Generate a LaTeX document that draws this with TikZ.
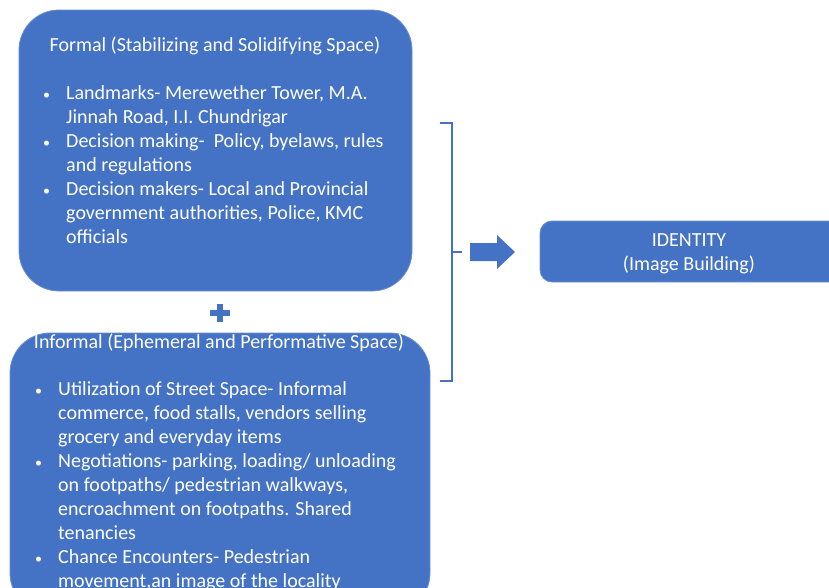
\documentclass[tikz,border=0pt]{standalone}
\usepackage{fontspec}
\setmainfont{Carlito}
\usepackage{tikz}
\usepackage{xcolor}

\definecolor{boxblue}{HTML}{4472C4}
\definecolor{boxedge}{HTML}{6C8FD0}

% bullet with a fixed hanging width
\newcommand{\bul}{\makebox[24pt][l]{\hspace{1pt}\fontsize{14}{14}\selectfont\textbullet}}
\newcommand{\hang}{\hspace*{24pt}}

\tikzset{
  panel/.style={draw=boxedge, fill=boxblue, line width=0.8pt, rounded corners=40pt},
  txt/.style={text=white, font=\fontsize{20}{24}\selectfont},
}

\begin{document}
\begin{tikzpicture}[x=1pt, y=-1pt]
  \useasboundingbox (0,0) rectangle (829,587);
  \clip (0,0) rectangle (829,587);
  % Formal
  \node[panel, minimum width=393pt, minimum height=281pt] (formal) at (215.5,150.5) {};
  \node[txt] (formalttl) at (215,46) {Formal (Stabilizing and Solidifying Space)};
  \node[txt, anchor=north west, align=left, inner sep=0pt] (formallst) at (42,85) {%
    \bul Landmarks- Merewether Tower, M.A.\\
    \hang Jinnah Road, I.I. Chundrigar\\
    \bul Decision making-\ \ Policy, byelaws, rules\\
    \hang and regulations\\
    \bul Decision makers- Local and\ Provincial\\
    \hang government authorities, Police, KMC\\
    \hang officials};
  % Plus
  \fill[boxblue] (210,310) rectangle (230,316);
  \fill[boxblue] (217,304) rectangle (223,322);
  % Informal
  \node[panel, minimum width=420pt, minimum height=280pt] (informal) at (220,473) {};
  \node[txt] (informalttl) at (219,343) {Informal (Ephemeral and Performative Space)};
  \node[txt, anchor=north west, align=left, inner sep=0pt] (informallst) at (34,381) {%
    \bul Utilization of Street Space- Informal\\
    \hang commerce, food stalls, vendors selling\\
    \hang grocery and\ everyday items\\
    \bul Negotiations- parking, loading/ unloading\\
    \hang on footpaths/ pedestrian walkways,\\
    \hang encroachment on footpaths. Shared\\
    \hang tenancies\\
    \bul Chance Encounters- Pedestrian\\
    \hang movement,an image of the locality};
  % Bracket
  \coordinate (brktop) at (440,123);
  \coordinate (brkbot) at (440,381);
  \coordinate (brk) at (462,252);
  \draw[boxblue, line width=1.5pt] (brktop) -- (452,123) -- (452,381) -- (brkbot);
  \draw[boxblue, line width=1.5pt] (452,252) -- (brk);
  % Block arrow
  \fill[boxblue] (470,243) -- (497,243) -- (497,235) -- (515,252)
    -- (497,269) -- (497,261) -- (470,261) -- cycle;
  % Identity
  \node[panel, rounded corners=12pt, minimum width=310pt, minimum height=61pt] (ident) at (695,251.5) {};
  \node[txt, align=center] (identttl) at (689,254) {IDENTITY\\(Image Building)};
\end{tikzpicture}
\end{document}
